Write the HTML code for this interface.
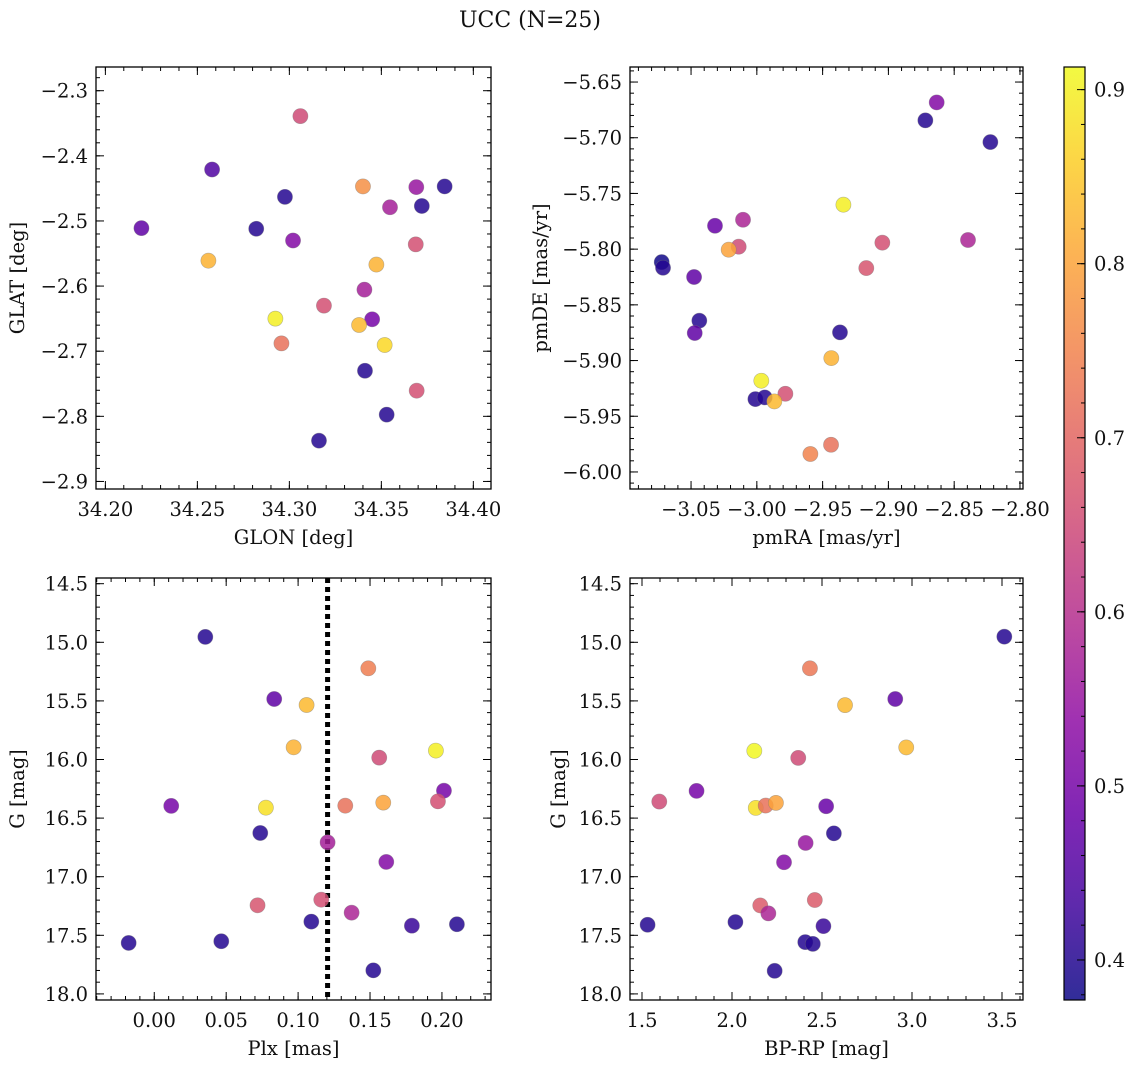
<!DOCTYPE html>
<html><head><meta charset="utf-8"><title>UCC (N=25)</title>
<style>
html,body{margin:0;padding:0;background:#fff;}
svg{display:block;font-family:"DejaVu Serif","Liberation Serif",serif;}
</style></head>
<body>
<svg id="fig" width="1136" height="1067" viewBox="0 0 1136 1067" xmlns="http://www.w3.org/2000/svg">
<defs>
<linearGradient id="cbgrad" x1="0" y1="1" x2="0" y2="0"></linearGradient>
</defs>
<text x="530" y="27" font-size="22" text-anchor="middle" fill="#111">UCC (N=25)</text>
</svg>
<script>
// ---------- data ----------
const p1_glon = [34.306,34.258,34.2196,34.282,34.2976,34.302,34.256,34.340,34.369,34.3844,34.3547,34.372,34.3473,34.3687,34.3408,34.3188,34.2924,34.345,34.3379,34.2957,34.3518,34.3411,34.3692,34.3529,34.3161];
const p1_glat = [-2.339,-2.421,-2.511,-2.512,-2.463,-2.530,-2.561,-2.447,-2.448,-2.447,-2.479,-2.477,-2.567,-2.536,-2.6055,-2.630,-2.650,-2.651,-2.6598,-2.688,-2.6905,-2.730,-2.7606,-2.7974,-2.8374];
const p1_prob = [0.65,0.45,0.47,0.40,0.40,0.52,0.82,0.77,0.55,0.40,0.57,0.40,0.82,0.66,0.57,0.66,0.90,0.50,0.83,0.72,0.87,0.40,0.66,0.40,0.40];

const p2_pmra = [-2.8633,-2.8719,-2.8225,-2.9342,-3.0318,-3.0105,-3.0138,-3.0214,-2.9046,-2.8395,-3.0723,-3.0713,-3.0477,-2.9168,-3.0437,-3.0472,-2.9368,-2.9434,-2.9966,-3.0011,-2.9940,-2.9783,-2.9867,-2.9436,-2.9593];
const p2_pmde = [-5.6683,-5.6844,-5.7039,-5.7601,-5.7790,-5.7736,-5.7978,-5.8005,-5.7942,-5.7918,-5.8116,-5.8167,-5.8250,-5.8170,-5.8642,-5.8753,-5.8747,-5.8978,-5.9181,-5.9346,-5.9331,-5.9298,-5.9367,-5.9756,-5.9839];
const p2_prob = [0.52,0.40,0.40,0.90,0.48,0.58,0.65,0.80,0.66,0.58,0.38,0.40,0.47,0.67,0.40,0.47,0.40,0.82,0.90,0.40,0.40,0.66,0.83,0.72,0.75];

const p3_plx = [0.0355,0.0834,0.1059,0.1488,0.0969,0.1958,0.1564,0.2014,0.0118,0.0776,0.1328,0.1592,0.1972,0.0737,0.1205,0.1613,0.0718,0.1161,0.1372,0.1092,0.1791,0.2104,-0.0178,0.0466,0.1523];
const p3_g = [14.954,15.484,15.535,15.222,15.896,15.924,15.984,16.266,16.396,16.411,16.394,16.368,16.357,16.627,16.707,16.874,17.244,17.196,17.307,17.383,17.418,17.406,17.565,17.551,17.799];
const p3_prob = [0.40,0.47,0.83,0.74,0.82,0.90,0.65,0.50,0.50,0.88,0.72,0.80,0.66,0.40,0.57,0.52,0.67,0.66,0.58,0.40,0.42,0.40,0.40,0.40,0.40];
const plxCut = [0.1205];

const p4_bprp = [3.513,2.433,2.907,2.628,2.968,2.124,2.368,1.803,1.596,2.132,2.187,2.244,2.523,2.566,2.409,2.289,2.157,2.460,2.202,1.531,2.019,2.508,2.407,2.449,2.237];
const p4_g = [14.952,15.222,15.484,15.536,15.897,15.926,15.986,16.268,16.359,16.413,16.393,16.370,16.399,16.630,16.712,16.877,17.245,17.199,17.313,17.410,17.387,17.422,17.558,17.573,17.803];
const p4_prob = [0.40,0.73,0.47,0.83,0.83,0.91,0.65,0.50,0.65,0.88,0.72,0.80,0.48,0.40,0.55,0.52,0.68,0.68,0.58,0.40,0.40,0.42,0.40,0.40,0.40];

const p1_xticks = [34.20,34.25,34.30,34.35,34.40];
const p1_yticks = [-2.3,-2.4,-2.5,-2.6,-2.7,-2.8,-2.9];
const p2_xticks = [-3.05,-3.00,-2.95,-2.90,-2.85,-2.80];
const p2_yticks = [-5.65,-5.70,-5.75,-5.80,-5.85,-5.90,-5.95,-6.00];
const p3_xticks = [0.00,0.05,0.10,0.15,0.20];
const g_yticks = [14.5,15.0,15.5,16.0,16.5,17.0,17.5,18.0];
const p4_xticks = [1.5,2.0,2.5,3.0,3.5];
const cb_ticks = [0.4,0.5,0.6,0.7,0.8,0.9];

// ---------- helpers ----------
const NS = "http://www.w3.org/2000/svg";
const svg = document.getElementById('fig');
const FS = 19.5;
function mk(tag, attrs, parent){
  const e = document.createElementNS(NS, tag);
  for (const k in attrs) e.setAttribute(k, attrs[k]);
  (parent||svg).appendChild(e);
  return e;
}
const plasma = [[13,8,135],[65,4,157],[106,0,168],[143,13,164],[177,42,144],[204,71,120],[225,100,98],[242,132,75],[252,166,54],[252,206,37],[240,249,33]];
const VMIN = 0.377, VMAX = 0.913;
function cmap(v){
  let t = (v - VMIN)/(VMAX - VMIN); t = Math.max(0, Math.min(1, t));
  const f = t*10, i = Math.min(9, Math.floor(f)), r = f - i;
  const a = plasma[i], b = plasma[i+1];
  return 'rgb(' + [0,1,2].map(k => Math.round(a[k] + (b[k]-a[k])*r)).join(',') + ')';
}
function fmt(v, d){ const s = Math.abs(v).toFixed(d); return (v < -1e-9 ? '\u2212' : '') + s; }

function panel(cfg){
  const g = mk('g', {});
  
  
  const L = cfg.l, T = cfg.t, W = cfg.w, H = cfg.h;
  const sx = v => L + (v - cfg.x0)/(cfg.x1 - cfg.x0)*W;
  const sy = v => T + (v - cfg.y0)/(cfg.y1 - cfg.y0)*H;
  const tg = mk('g', {stroke:'#000','stroke-width':1}, g);
  
  
  const xlo = Math.min(cfg.x0,cfg.x1), xhi = Math.max(cfg.x0,cfg.x1);
  const ylo = Math.min(cfg.y0,cfg.y1), yhi = Math.max(cfg.y0,cfg.y1);
  for (let k = Math.ceil(xlo/cfg.xminor - 1e-6); k*cfg.xminor <= xhi + 1e-9; k++){
    const x = sx(k*cfg.xminor);
    mk('line', {x1:x, x2:x, y1:T+H, y2:T+H-4}, tg);
    mk('line', {x1:x, x2:x, y1:T, y2:T+4}, tg);
  }
  for (let k = Math.ceil(ylo/cfg.yminor - 1e-6); k*cfg.yminor <= yhi + 1e-9; k++){
    const y = sy(k*cfg.yminor);
    mk('line', {x1:L, x2:L+4, y1:y, y2:y}, tg);
    mk('line', {x1:L+W, x2:L+W-4, y1:y, y2:y}, tg);
  }
  cfg.xticks.forEach(v => {
    const x = sx(v);
    mk('line', {x1:x, x2:x, y1:T+H, y2:T+H-8}, tg);
    mk('line', {x1:x, x2:x, y1:T, y2:T+8}, tg);
    const t = mk('text', {x:x, y:T+H+27, 'font-size':FS, 'text-anchor':'middle', fill:'#111'}, g);
    
    
    t.textContent = fmt(v, cfg.xdec);
  });
  cfg.yticks.forEach(v => {
    const y = sy(v);
    mk('line', {x1:L, x2:L+8, y1:y, y2:y}, tg);
    mk('line', {x1:L+W, x2:L+W-8, y1:y, y2:y}, tg);
    const t = mk('text', {x:L-8, y:y+7, 'font-size':FS, 'text-anchor':'end', fill:'#111'}, g);
    
    
    t.textContent = fmt(v, cfg.ydec);
  });
  if (cfg.vline !== undefined){
    const x = sx(cfg.vline);
    const vl = mk('line', {x1:x, x2:x, y1:T, y2:T+H, stroke:'#000', 'stroke-width':5, 'stroke-dasharray':'5 4'}, g);
    
    
  }
  const pg = mk('g', {}, g);
  
  
  cfg.xs.forEach((xv, i) => {
    const c = mk('circle', {cx:sx(xv), cy:sy(cfg.ys[i]), r:7.6, fill:cmap(cfg.cs[i]), 'fill-opacity':0.85, stroke:'#777', 'stroke-opacity':0.5, 'stroke-width':0.6}, pg);
    
    
  });
  const fr = mk('rect', {x:L, y:T, width:W, height:H, fill:'none', stroke:'#000', 'stroke-width':1.3}, g);
  
  
  const xl = mk('text', {x:L+W/2, y:T+H+55, 'font-size':FS, 'text-anchor':'middle', fill:'#111'}, g);
  
  
  xl.textContent = cfg.xlabel;
  const yx = cfg.ylabx, yy = T+H/2;
  const yl = mk('text', {x:yx, y:yy, 'font-size':FS, 'text-anchor':'middle', fill:'#111', transform:'rotate(-90 '+yx+' '+yy+')'}, g);
  
  
  yl.textContent = cfg.ylabel;
}

panel({name:'glon-glat-panel', l:96, t:67, w:395, h:422, x0:34.1949, x1:34.4096, y0:-2.2636, y1:-2.9116,
  xminor:0.01, yminor:0.02, xticks:p1_xticks, yticks:p1_yticks, xdec:2, ydec:1,
  xs:p1_glon, ys:p1_glat, cs:p1_prob, xlabel:'GLON [deg]', ylabel:'GLAT [deg]', ylabx:24});
panel({name:'pm-panel', l:630, t:67, w:393, h:422, x0:-3.0964, x1:-2.7977, y0:-5.6365, y1:-6.0153,
  xminor:0.01, yminor:0.01, xticks:p2_xticks, yticks:p2_yticks, xdec:2, ydec:2,
  xs:p2_pmra, ys:p2_pmde, cs:p2_prob, xlabel:'pmRA [mas/yr]', ylabel:'pmDE [mas/yr]', ylabx:547});
panel({name:'plx-g-panel', l:96, t:578, w:395, h:422, x0:-0.0405, x1:0.2341, y0:14.4514, y1:18.052,
  xminor:0.01, yminor:0.1, xticks:p3_xticks, yticks:g_yticks, xdec:2, ydec:1,
  xs:p3_plx, ys:p3_g, cs:p3_prob, xlabel:'Plx [mas]', ylabel:'G [mag]', ylabx:24, vline:plxCut[0]});
panel({name:'cmd-panel', l:630, t:578, w:393, h:422, x0:1.4333, x1:3.6167, y0:14.4514, y1:18.052,
  xminor:0.1, yminor:0.1, xticks:p4_xticks, yticks:g_yticks, xdec:1, ydec:1,
  xs:p4_bprp, ys:p4_g, cs:p4_prob, xlabel:'BP-RP [mag]', ylabel:'G [mag]', ylabx:565});

// ---------- colorbar ----------
const grad = document.getElementById('cbgrad');
for (let i = 0; i <= 20; i++){
  const v = VMIN + (VMAX - VMIN)*i/20;
  mk('stop', {offset:(i*5)+'%', 'stop-color':cmap(v), 'stop-opacity':0.85}, grad);
}
const CBL = 1064, CBT = 67, CBW = 21, CBH = 933;
const cby = v => CBT + (VMAX - v)/(VMAX - VMIN)*CBH;
const cbg = mk('g', {});


const cbr = mk('rect', {x:CBL, y:CBT, width:CBW, height:CBH, fill:'url(#cbgrad)', stroke:'#000', 'stroke-width':1.2}, cbg);


for (let k = Math.ceil(VMIN/0.02); k*0.02 <= VMAX; k++){
  const y = cby(k*0.02);
  mk('line', {x1:CBL+CBW, x2:CBL+CBW-4, y1:y, y2:y, stroke:'#000', 'stroke-width':1}, cbg);
}
cb_ticks.forEach(v => {
  const y = cby(v);
  mk('line', {x1:CBL+CBW, x2:CBL+CBW-8, y1:y, y2:y, stroke:'#000', 'stroke-width':1}, cbg);
  const t = mk('text', {x:CBL+CBW+9, y:y+7, 'font-size':FS, fill:'#111'}, cbg);
  
  
  t.textContent = v.toFixed(1);
});
</script>
</body></html>
